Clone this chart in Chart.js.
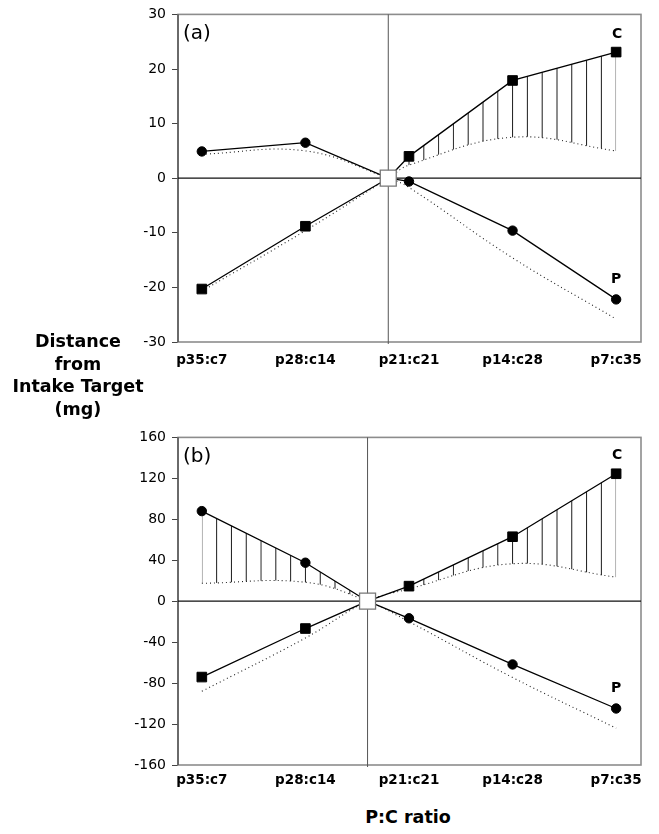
<!DOCTYPE html>
<html><head><meta charset="utf-8">
<script src="https://cdn.jsdelivr.net/npm/chart.js@4.4.1/dist/chart.umd.min.js"></script>
<style>
html,body{margin:0;padding:0;background:#fff;}
body{width:659px;height:834px;position:relative;overflow:hidden;font-family:'DejaVu Sans',sans-serif;color:#000;}
.cv{position:absolute;left:0;width:659px;height:380px;}
#ytitle{position:absolute;left:-2px;top:330px;width:160px;text-align:center;font-weight:bold;font-size:17.5px;line-height:22.5px;}
#xtitle{position:absolute;left:308px;top:806px;width:200px;text-align:center;font-weight:bold;font-size:17.5px;line-height:22.5px;}
</style></head>
<body>
<div class="cv" style="top:0"><canvas id="ca" width="659" height="380"></canvas></div>
<div class="cv" style="top:423px"><canvas id="cb" width="659" height="380"></canvas></div>
<div id="ytitle">Distance<br>from<br>Intake Target<br>(mg)</div>
<div id="xtitle">P:C ratio</div>
<script>
// ---- data ----
const categories = ['p35:c7', 'p28:c14', 'p21:c21', 'p14:c28', 'p7:c35'];
const catPos = [1, 2, 3, 4, 5];
const targetA = 2.8;   // intake target position, panel (a)
const targetB = 2.6;   // intake target position, panel (b)

// panel (a)
const aP    = [4.9, 6.5, -0.6, -9.6, -22.2];
const aC    = [-20.3, -8.8, 4.0, 17.9, 23.1];
const aPdot = [4.4, 5.0, -1.7, -14.6, -25.8];
const aCdot = [-20.7, -9.6, 2.4, 7.5, 5.0];
// panel (b)
const bP    = [88, 37.6, -16.7, -61.8, -104.8];
const bC    = [-74.1, -26.7, 14.7, 63, 124.5];
const bPdot = [17.5, 18.5, -20, -74.5, -124];
const bCdot = [-88, -36, 12, 36.6, 23.5];

const aTicks = {min: -30, max: 30, step: 10};
const bTicks = {min: -160, max: 160, step: 40};

Chart.defaults.font.family = "'DejaVu Sans', sans-serif";
Chart.defaults.color = '#000';

function makeHatch() {
  const c = document.createElement('canvas');
  c.width = 15; c.height = 4;
  const g = c.getContext('2d');
  g.fillStyle = '#1a1a1a';
  g.fillRect(0, 0, 1, 4);
  return g.createPattern(c, 'repeat');
}

function buildPanel(canvasId, P, C, Pdot, Cdot, target, ticks, letter, hatchP, hatchC, labelPad) {
  const tIdx = catPos.filter(v => v < target).length;
  const withTarget = arr => {
    const pts = catPos.map((x, i) => ({x: x, y: arr[i]}));
    pts.splice(tIdx, 0, {x: target, y: 0});
    return pts;
  };
  const hatch = makeHatch();
  const clear = 'rgba(0,0,0,0)';
  const segFor = side => ({
    backgroundColor: c => {
      if (side === 'left') return c.p1DataIndex <= tIdx ? hatch : clear;
      if (side === 'right') return c.p0DataIndex >= tIdx ? hatch : clear;
      return clear;
    }
  });
  const markerR = (r) => (c => c.dataIndex === tIdx ? 0 : r);

  const decor = {
    id: 'decor_' + canvasId,
    afterLayout(chart) {
      const xs = chart.scales.x;
      const p1 = xs.getPixelForValue(catPos[0]);
      const sp = (xs.getPixelForValue(catPos[1]) - p1) / 7;
      hatch.setTransform(new DOMMatrix([sp / 15, 0, 0, 1, p1 - 0.5, 0]));
    },
    beforeDatasetsDraw(chart) {
      const {ctx, chartArea: a, scales: {x, y}} = chart;
      ctx.save();
      ctx.lineWidth = 1.6;
      ctx.strokeStyle = '#8c8c8c';
      ctx.strokeRect(a.left, a.top, a.right - a.left, a.bottom - a.top);
      ctx.lineWidth = 1;
      ctx.strokeStyle = '#333';
      ctx.beginPath(); ctx.moveTo(a.left, a.top); ctx.lineTo(a.left, a.bottom); ctx.stroke();
      const y0 = y.getPixelForValue(0);
      ctx.lineWidth = 1.3;
      ctx.strokeStyle = '#111';
      ctx.beginPath(); ctx.moveTo(a.left, y0); ctx.lineTo(a.right, y0); ctx.stroke();
      const xt = x.getPixelForValue(target);
      ctx.lineWidth = 1;
      ctx.strokeStyle = '#555';
      ctx.beginPath(); ctx.moveTo(xt, a.top); ctx.lineTo(xt, a.bottom + 2); ctx.stroke();
      ctx.restore();
    },
    afterDatasetsDraw(chart) {
      const {ctx, chartArea: a, scales: {x, y}} = chart;
      const last = catPos.length - 1;
      ctx.save();
      ctx.fillStyle = '#000';
      ctx.textBaseline = 'middle';
      ctx.textAlign = 'left';
      ctx.font = "20px 'DejaVu Sans'";
      ctx.fillText(letter, a.left + 5, a.top + 19);
      ctx.font = "bold 14px 'DejaVu Sans'";
      ctx.textAlign = 'center';
      const xl = x.getPixelForValue(catPos[last]) + 1;
      ctx.fillText('C', xl, y.getPixelForValue(C[last]) - 18);
      ctx.fillText('P', xl - 1, y.getPixelForValue(P[last]) - 20);
      ctx.restore();
    }
  };

  return new Chart(document.getElementById(canvasId), {
    type: 'line',
    data: {
      datasets: [
        { // intake target
          data: [{x: target, y: 0}], showLine: false,
          pointStyle: 'rect', pointRadius: 11.3, pointBackgroundColor: '#fff',
          pointBorderColor: '#777', pointBorderWidth: 1.3
        },
        { // P observed
          data: withTarget(P), borderColor: '#000', borderWidth: 1.3, tension: 0,
          pointStyle: 'circle', pointRadius: markerR(4.7), pointBackgroundColor: '#000',
          pointBorderColor: '#000', pointBorderWidth: 1,
          fill: hatchP ? {target: 3} : false, backgroundColor: hatch,
          segment: segFor(hatchP)
        },
        { // C observed
          data: withTarget(C), borderColor: '#000', borderWidth: 1.3, tension: 0,
          pointStyle: 'rect', pointRadius: markerR(6.8), pointBackgroundColor: '#000',
          pointBorderColor: '#000', pointBorderWidth: 1,
          fill: hatchC ? {target: 4} : false, backgroundColor: hatch,
          segment: segFor(hatchC)
        },
        { // P expected (dotted)
          data: withTarget(Pdot), borderColor: '#222', borderWidth: 1.1, borderDash: [1, 3],
          pointRadius: 0, tension: 0.4, fill: false
        },
        { // C expected (dotted)
          data: withTarget(Cdot), borderColor: '#222', borderWidth: 1.1, borderDash: [1, 3],
          pointRadius: 0, tension: 0.4, fill: false
        }
      ]
    },
    options: {
      responsive: false,
      animation: false,
      events: [],
      layout: {padding: {top: 14, right: 18, bottom: 0, left: 0}},
      plugins: {legend: {display: false}, tooltip: {enabled: false}},
      scales: {
        x: {
          type: 'linear', min: 0.77, max: 5.24,
          afterBuildTicks: s => { s.ticks = catPos.map(v => ({value: v})); },
          ticks: {
            callback: (v, i) => categories[i],
            font: {weight: 'bold', size: 13.5}, color: '#000',
            padding: labelPad, autoSkip: false, maxRotation: 0
          },
          grid: {display: false, drawTicks: false, tickLength: 0},
          border: {display: false},
          afterFit: s => { s.height = 38; }
        },
        y: {
          min: ticks.min, max: ticks.max,
          ticks: {stepSize: ticks.step, font: {size: 14}, color: '#000', padding: 6},
          grid: {drawOnChartArea: false, tickLength: 6, color: '#444', lineWidth: 1},
          border: {display: false},
          afterFit: s => { s.width = 178; }
        }
      }
    },
    plugins: [decor]
  });
}

buildPanel('ca', aP, aC, aPdot, aCdot, targetA, aTicks, '(a)', null, 'right', 10);
buildPanel('cb', bP, bC, bPdot, bCdot, targetB, bTicks, '(b)', 'left', 'right', 7);
</script>
</body></html>
